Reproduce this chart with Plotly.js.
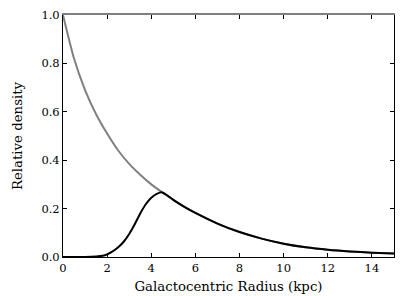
<!DOCTYPE html>
<html><head><meta charset="utf-8">
<script src="https://cdn.plot.ly/plotly-3.0.1.min.js"></script>
<style>html,body{margin:0;padding:0;background:#fff}</style>
</head><body><div id="chart" style="width:415px;height:296px"></div>
<script>
// Gray curve (exponential-like disk profile)
const grayR = [0, 0.5, 1, 1.5, 2, 2.5, 3, 3.5, 4, 4.5, 5, 5.5, 6, 7, 8, 9, 10, 11, 12, 13, 14, 15];
const grayY = [1.0, 0.82, 0.69, 0.59, 0.51, 0.44, 0.385, 0.34, 0.30, 0.267, 0.236, 0.207, 0.182, 0.138, 0.103, 0.076, 0.055, 0.040, 0.030, 0.023, 0.018, 0.014];
// Black curve
const blackR = [0, 1, 1.5, 1.8, 2, 2.25, 2.5, 2.75, 3, 3.25, 3.5, 3.75, 4, 4.25, 4.5, 4.75, 5, 5.5, 6, 7, 8, 9, 10, 11, 12, 13, 14, 15];
const blackY = [0, 0.0, 0.002, 0.005, 0.011, 0.023, 0.04, 0.063, 0.095, 0.135, 0.18, 0.218, 0.245, 0.261, 0.267, 0.253, 0.236, 0.207, 0.182, 0.138, 0.103, 0.076, 0.055, 0.040, 0.030, 0.023, 0.018, 0.014];
const xTicks = [0, 2, 4, 6, 8, 10, 12, 14];
const yTicks = [0.0, 0.2, 0.4, 0.6, 0.8, 1.0];
const yTickText = ['0.0', '0.2', '0.4', '0.6', '0.8', '1.0'];

const font = {family: 'DejaVu Serif, serif', color: '#000'};
const traces = [
  {x: grayR, y: grayY, mode: 'lines', line: {color: '#808080', width: 2, shape: 'spline', smoothing: 0.6}, hoverinfo: 'skip'},
  {x: blackR, y: blackY, mode: 'lines', line: {color: '#000', width: 2, shape: 'spline', smoothing: 0.6}, hoverinfo: 'skip'},
  {x: [0, 15], y: [0, 0], xaxis: 'x2', yaxis: 'y2', mode: 'lines', line: {width: 0}, hoverinfo: 'skip', showlegend: false}
];
const layout = {
  width: 415, height: 296,
  margin: {l: 63, r: 21, t: 15, b: 39},
  showlegend: false,
  paper_bgcolor: '#fff', plot_bgcolor: '#fff',
  font: Object.assign({size: 11}, font),
  xaxis: {range: [0, 15], tickvals: xTicks, ticks: 'inside', ticklen: 4, tickcolor: '#000',
    showline: true, linecolor: '#000', linewidth: 1, showgrid: false, zeroline: false,
    tickfont: Object.assign({size: 11.5}, font),
    title: {text: 'Galactocentric Radius (kpc)', font: Object.assign({size: 13.3}, font), standoff: 7}},
  yaxis: {range: [0, 1], tickvals: yTicks, ticktext: yTickText, ticks: 'inside', ticklen: 4, tickcolor: '#000',
    showline: true, linecolor: '#000', linewidth: 1, mirror: 'ticks', showgrid: false, zeroline: false,
    tickfont: Object.assign({size: 11.5}, font),
    title: {text: 'Relative density', font: Object.assign({size: 13.3}, font), standoff: 15}},
  xaxis2: {overlaying: 'x', side: 'top', range: [0, 15], tickvals: xTicks, ticks: 'inside', ticklen: 4, tickcolor: '#000',
    showticklabels: false, showline: true, linecolor: '#808080', linewidth: 2, showgrid: false, zeroline: false},
  yaxis2: {overlaying: 'y', range: [0, 1], visible: false}
};
Plotly.newPlot('chart', traces, layout, {staticPlot: true, displayModeBar: false});
</script></body></html>
